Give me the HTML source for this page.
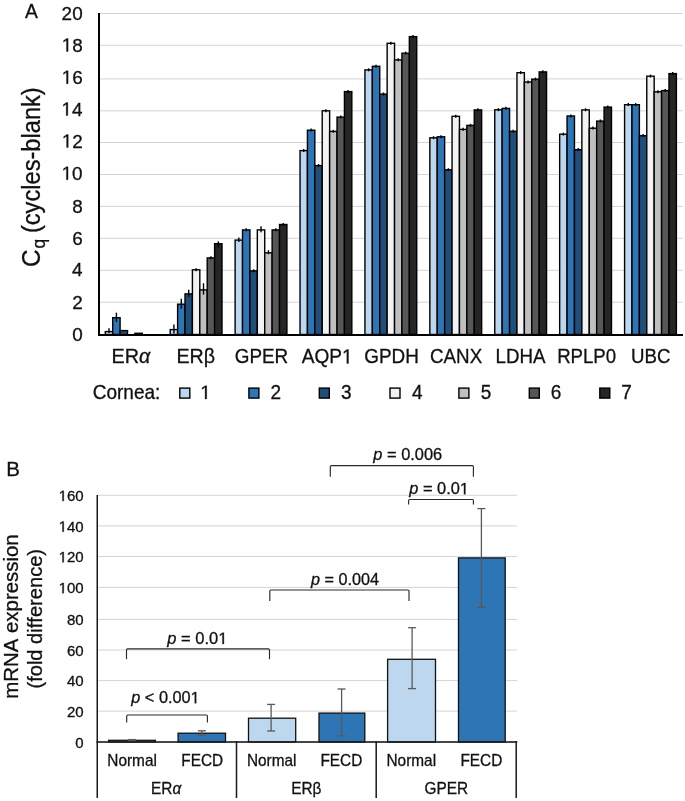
<!DOCTYPE html>
<html><head><meta charset="utf-8"><style>
html,body{margin:0;padding:0;background:#fff;}
svg{display:block;will-change:transform;}
text{font-family:"Liberation Sans", sans-serif;fill:#111;font-kerning:none;stroke:#111;stroke-width:0.3px;}
.g1{fill:#111;stroke:#111;stroke-width:0.3px;vector-effect:non-scaling-stroke;}
</style></head><body>
<svg width="685" height="801" viewBox="0 0 685 801">
<rect width="685" height="801" fill="#fff"/>
<rect x="100" y="13.00" width="583" height="1" fill="#D4D4D4"/>
<rect x="100" y="44.80" width="583" height="1" fill="#D4D4D4"/>
<rect x="100" y="78.40" width="583" height="1" fill="#D4D4D4"/>
<rect x="100" y="110.30" width="583" height="1" fill="#D4D4D4"/>
<rect x="100" y="142.00" width="583" height="1" fill="#D4D4D4"/>
<rect x="100" y="174.00" width="583" height="1" fill="#D4D4D4"/>
<rect x="100" y="205.90" width="583" height="1" fill="#D4D4D4"/>
<rect x="100" y="237.80" width="583" height="1" fill="#D4D4D4"/>
<rect x="100" y="269.80" width="583" height="1" fill="#D4D4D4"/>
<rect x="100" y="301.70" width="583" height="1" fill="#D4D4D4"/>
<rect x="105.30" y="331.60" width="7.40" height="2.90" fill="#BDD7EE" stroke="#000" stroke-width="1.4"/>
<line x1="109.00" y1="328.20" x2="109.00" y2="333.00" stroke="#000" stroke-width="1.4"/>
<rect x="112.70" y="317.70" width="7.40" height="16.80" fill="#2E75B6" stroke="#000" stroke-width="1.4"/>
<line x1="116.40" y1="312.70" x2="116.40" y2="322.00" stroke="#000" stroke-width="1.4"/>
<rect x="120.10" y="330.60" width="7.40" height="3.90" fill="#1F4E79" stroke="#000" stroke-width="1.4"/>
<rect x="134.90" y="333.30" width="7.40" height="1.20" fill="#BFBFBF" stroke="#000" stroke-width="1.4"/>
<rect x="170.21" y="329.60" width="7.40" height="4.90" fill="#BDD7EE" stroke="#000" stroke-width="1.4"/>
<line x1="173.91" y1="324.50" x2="173.91" y2="333.50" stroke="#000" stroke-width="1.4"/>
<rect x="177.61" y="304.20" width="7.40" height="30.30" fill="#2E75B6" stroke="#000" stroke-width="1.4"/>
<line x1="181.31" y1="298.70" x2="181.31" y2="308.60" stroke="#000" stroke-width="1.4"/>
<rect x="185.01" y="293.90" width="7.40" height="40.60" fill="#1F4E79" stroke="#000" stroke-width="1.4"/>
<line x1="188.71" y1="289.80" x2="188.71" y2="296.90" stroke="#000" stroke-width="1.4"/>
<rect x="192.41" y="269.80" width="7.40" height="64.70" fill="#F2F2F2" stroke="#000" stroke-width="1.4"/>
<line x1="196.11" y1="268.20" x2="196.11" y2="271.20" stroke="#000" stroke-width="1.4"/>
<rect x="199.81" y="289.90" width="7.40" height="44.60" fill="#BFBFBF" stroke="#000" stroke-width="1.4"/>
<line x1="203.51" y1="283.30" x2="203.51" y2="294.60" stroke="#000" stroke-width="1.4"/>
<rect x="207.21" y="257.90" width="7.40" height="76.60" fill="#575757" stroke="#000" stroke-width="1.4"/>
<line x1="210.91" y1="256.30" x2="210.91" y2="259.30" stroke="#000" stroke-width="1.4"/>
<rect x="214.61" y="243.70" width="7.40" height="90.80" fill="#262626" stroke="#000" stroke-width="1.4"/>
<line x1="218.31" y1="241.30" x2="218.31" y2="247.40" stroke="#000" stroke-width="1.4"/>
<rect x="235.12" y="240.10" width="7.40" height="94.40" fill="#BDD7EE" stroke="#000" stroke-width="1.4"/>
<line x1="238.82" y1="237.60" x2="238.82" y2="242.00" stroke="#000" stroke-width="1.4"/>
<rect x="242.52" y="229.90" width="7.40" height="104.60" fill="#2E75B6" stroke="#000" stroke-width="1.4"/>
<line x1="246.22" y1="228.30" x2="246.22" y2="231.30" stroke="#000" stroke-width="1.4"/>
<rect x="249.92" y="270.90" width="7.40" height="63.60" fill="#1F4E79" stroke="#000" stroke-width="1.4"/>
<line x1="253.62" y1="269.30" x2="253.62" y2="272.30" stroke="#000" stroke-width="1.4"/>
<rect x="257.32" y="229.90" width="7.40" height="104.60" fill="#F2F2F2" stroke="#000" stroke-width="1.4"/>
<line x1="261.02" y1="226.20" x2="261.02" y2="232.30" stroke="#000" stroke-width="1.4"/>
<rect x="264.72" y="252.80" width="7.40" height="81.70" fill="#BFBFBF" stroke="#000" stroke-width="1.4"/>
<line x1="268.42" y1="250.20" x2="268.42" y2="254.20" stroke="#000" stroke-width="1.4"/>
<rect x="272.12" y="229.90" width="7.40" height="104.60" fill="#575757" stroke="#000" stroke-width="1.4"/>
<line x1="275.82" y1="228.30" x2="275.82" y2="231.30" stroke="#000" stroke-width="1.4"/>
<rect x="279.52" y="224.50" width="7.40" height="110.00" fill="#262626" stroke="#000" stroke-width="1.4"/>
<line x1="283.22" y1="222.90" x2="283.22" y2="225.90" stroke="#000" stroke-width="1.4"/>
<rect x="300.03" y="150.60" width="7.40" height="183.90" fill="#BDD7EE" stroke="#000" stroke-width="1.4"/>
<line x1="303.73" y1="149.00" x2="303.73" y2="152.00" stroke="#000" stroke-width="1.4"/>
<rect x="307.43" y="130.20" width="7.40" height="204.30" fill="#2E75B6" stroke="#000" stroke-width="1.4"/>
<line x1="311.13" y1="128.60" x2="311.13" y2="131.60" stroke="#000" stroke-width="1.4"/>
<rect x="314.83" y="165.60" width="7.40" height="168.90" fill="#1F4E79" stroke="#000" stroke-width="1.4"/>
<line x1="318.53" y1="164.00" x2="318.53" y2="167.00" stroke="#000" stroke-width="1.4"/>
<rect x="322.23" y="110.80" width="7.40" height="223.70" fill="#F2F2F2" stroke="#000" stroke-width="1.4"/>
<line x1="325.93" y1="109.20" x2="325.93" y2="112.20" stroke="#000" stroke-width="1.4"/>
<rect x="329.63" y="131.40" width="7.40" height="203.10" fill="#BFBFBF" stroke="#000" stroke-width="1.4"/>
<line x1="333.33" y1="129.80" x2="333.33" y2="132.80" stroke="#000" stroke-width="1.4"/>
<rect x="337.03" y="117.10" width="7.40" height="217.40" fill="#575757" stroke="#000" stroke-width="1.4"/>
<line x1="340.73" y1="115.50" x2="340.73" y2="118.50" stroke="#000" stroke-width="1.4"/>
<rect x="344.43" y="91.60" width="7.40" height="242.90" fill="#262626" stroke="#000" stroke-width="1.4"/>
<line x1="348.13" y1="90.00" x2="348.13" y2="93.00" stroke="#000" stroke-width="1.4"/>
<rect x="364.94" y="69.90" width="7.40" height="264.60" fill="#BDD7EE" stroke="#000" stroke-width="1.4"/>
<line x1="368.64" y1="68.30" x2="368.64" y2="71.30" stroke="#000" stroke-width="1.4"/>
<rect x="372.34" y="66.30" width="7.40" height="268.20" fill="#2E75B6" stroke="#000" stroke-width="1.4"/>
<line x1="376.04" y1="64.70" x2="376.04" y2="67.70" stroke="#000" stroke-width="1.4"/>
<rect x="379.74" y="94.10" width="7.40" height="240.40" fill="#1F4E79" stroke="#000" stroke-width="1.4"/>
<line x1="383.44" y1="92.50" x2="383.44" y2="95.50" stroke="#000" stroke-width="1.4"/>
<rect x="387.14" y="43.30" width="7.40" height="291.20" fill="#F2F2F2" stroke="#000" stroke-width="1.4"/>
<line x1="390.84" y1="41.70" x2="390.84" y2="44.70" stroke="#000" stroke-width="1.4"/>
<rect x="394.54" y="59.90" width="7.40" height="274.60" fill="#BFBFBF" stroke="#000" stroke-width="1.4"/>
<line x1="398.24" y1="58.30" x2="398.24" y2="61.30" stroke="#000" stroke-width="1.4"/>
<rect x="401.94" y="53.20" width="7.40" height="281.30" fill="#575757" stroke="#000" stroke-width="1.4"/>
<line x1="405.64" y1="51.60" x2="405.64" y2="54.60" stroke="#000" stroke-width="1.4"/>
<rect x="409.34" y="36.60" width="7.40" height="297.90" fill="#262626" stroke="#000" stroke-width="1.4"/>
<line x1="413.04" y1="35.00" x2="413.04" y2="38.00" stroke="#000" stroke-width="1.4"/>
<rect x="429.85" y="137.80" width="7.40" height="196.70" fill="#BDD7EE" stroke="#000" stroke-width="1.4"/>
<line x1="433.55" y1="136.20" x2="433.55" y2="139.20" stroke="#000" stroke-width="1.4"/>
<rect x="437.25" y="136.80" width="7.40" height="197.70" fill="#2E75B6" stroke="#000" stroke-width="1.4"/>
<line x1="440.95" y1="135.20" x2="440.95" y2="138.20" stroke="#000" stroke-width="1.4"/>
<rect x="444.65" y="169.80" width="7.40" height="164.70" fill="#1F4E79" stroke="#000" stroke-width="1.4"/>
<line x1="448.35" y1="168.20" x2="448.35" y2="171.20" stroke="#000" stroke-width="1.4"/>
<rect x="452.05" y="116.30" width="7.40" height="218.20" fill="#F2F2F2" stroke="#000" stroke-width="1.4"/>
<line x1="455.75" y1="114.70" x2="455.75" y2="117.70" stroke="#000" stroke-width="1.4"/>
<rect x="459.45" y="129.40" width="7.40" height="205.10" fill="#BFBFBF" stroke="#000" stroke-width="1.4"/>
<line x1="463.15" y1="127.80" x2="463.15" y2="130.80" stroke="#000" stroke-width="1.4"/>
<rect x="466.85" y="125.40" width="7.40" height="209.10" fill="#575757" stroke="#000" stroke-width="1.4"/>
<line x1="470.55" y1="123.80" x2="470.55" y2="126.80" stroke="#000" stroke-width="1.4"/>
<rect x="474.25" y="109.90" width="7.40" height="224.60" fill="#262626" stroke="#000" stroke-width="1.4"/>
<line x1="477.95" y1="108.30" x2="477.95" y2="111.30" stroke="#000" stroke-width="1.4"/>
<rect x="494.76" y="109.80" width="7.40" height="224.70" fill="#BDD7EE" stroke="#000" stroke-width="1.4"/>
<line x1="498.46" y1="108.20" x2="498.46" y2="111.20" stroke="#000" stroke-width="1.4"/>
<rect x="502.16" y="108.40" width="7.40" height="226.10" fill="#2E75B6" stroke="#000" stroke-width="1.4"/>
<line x1="505.86" y1="106.80" x2="505.86" y2="109.80" stroke="#000" stroke-width="1.4"/>
<rect x="509.56" y="131.30" width="7.40" height="203.20" fill="#1F4E79" stroke="#000" stroke-width="1.4"/>
<line x1="513.26" y1="129.70" x2="513.26" y2="132.70" stroke="#000" stroke-width="1.4"/>
<rect x="516.96" y="72.70" width="7.40" height="261.80" fill="#F2F2F2" stroke="#000" stroke-width="1.4"/>
<line x1="520.66" y1="71.10" x2="520.66" y2="74.10" stroke="#000" stroke-width="1.4"/>
<rect x="524.36" y="82.00" width="7.40" height="252.50" fill="#BFBFBF" stroke="#000" stroke-width="1.4"/>
<line x1="528.06" y1="80.40" x2="528.06" y2="83.40" stroke="#000" stroke-width="1.4"/>
<rect x="531.76" y="79.20" width="7.40" height="255.30" fill="#575757" stroke="#000" stroke-width="1.4"/>
<line x1="535.46" y1="77.60" x2="535.46" y2="80.60" stroke="#000" stroke-width="1.4"/>
<rect x="539.16" y="71.90" width="7.40" height="262.60" fill="#262626" stroke="#000" stroke-width="1.4"/>
<line x1="542.86" y1="70.30" x2="542.86" y2="73.30" stroke="#000" stroke-width="1.4"/>
<rect x="559.67" y="134.20" width="7.40" height="200.30" fill="#BDD7EE" stroke="#000" stroke-width="1.4"/>
<line x1="563.37" y1="132.60" x2="563.37" y2="135.60" stroke="#000" stroke-width="1.4"/>
<rect x="567.07" y="116.00" width="7.40" height="218.50" fill="#2E75B6" stroke="#000" stroke-width="1.4"/>
<line x1="570.77" y1="114.40" x2="570.77" y2="117.40" stroke="#000" stroke-width="1.4"/>
<rect x="574.47" y="149.70" width="7.40" height="184.80" fill="#1F4E79" stroke="#000" stroke-width="1.4"/>
<line x1="578.17" y1="148.10" x2="578.17" y2="151.10" stroke="#000" stroke-width="1.4"/>
<rect x="581.87" y="109.90" width="7.40" height="224.60" fill="#F2F2F2" stroke="#000" stroke-width="1.4"/>
<line x1="585.57" y1="108.30" x2="585.57" y2="111.30" stroke="#000" stroke-width="1.4"/>
<rect x="589.27" y="128.20" width="7.40" height="206.30" fill="#BFBFBF" stroke="#000" stroke-width="1.4"/>
<line x1="592.97" y1="126.60" x2="592.97" y2="129.60" stroke="#000" stroke-width="1.4"/>
<rect x="596.67" y="121.10" width="7.40" height="213.40" fill="#575757" stroke="#000" stroke-width="1.4"/>
<line x1="600.37" y1="119.50" x2="600.37" y2="122.50" stroke="#000" stroke-width="1.4"/>
<rect x="604.07" y="107.10" width="7.40" height="227.40" fill="#262626" stroke="#000" stroke-width="1.4"/>
<line x1="607.77" y1="105.50" x2="607.77" y2="108.50" stroke="#000" stroke-width="1.4"/>
<rect x="624.58" y="104.70" width="7.40" height="229.80" fill="#BDD7EE" stroke="#000" stroke-width="1.4"/>
<line x1="628.28" y1="103.10" x2="628.28" y2="106.10" stroke="#000" stroke-width="1.4"/>
<rect x="631.98" y="104.70" width="7.40" height="229.80" fill="#2E75B6" stroke="#000" stroke-width="1.4"/>
<line x1="635.68" y1="103.10" x2="635.68" y2="106.10" stroke="#000" stroke-width="1.4"/>
<rect x="639.38" y="135.70" width="7.40" height="198.80" fill="#1F4E79" stroke="#000" stroke-width="1.4"/>
<line x1="643.08" y1="134.10" x2="643.08" y2="137.10" stroke="#000" stroke-width="1.4"/>
<rect x="646.78" y="76.20" width="7.40" height="258.30" fill="#F2F2F2" stroke="#000" stroke-width="1.4"/>
<line x1="650.48" y1="74.60" x2="650.48" y2="77.60" stroke="#000" stroke-width="1.4"/>
<rect x="654.18" y="91.80" width="7.40" height="242.70" fill="#BFBFBF" stroke="#000" stroke-width="1.4"/>
<line x1="657.88" y1="90.20" x2="657.88" y2="93.20" stroke="#000" stroke-width="1.4"/>
<rect x="661.58" y="90.60" width="7.40" height="243.90" fill="#575757" stroke="#000" stroke-width="1.4"/>
<line x1="665.28" y1="89.00" x2="665.28" y2="92.00" stroke="#000" stroke-width="1.4"/>
<rect x="668.98" y="73.60" width="7.40" height="260.90" fill="#262626" stroke="#000" stroke-width="1.4"/>
<line x1="672.68" y1="72.00" x2="672.68" y2="75.00" stroke="#000" stroke-width="1.4"/>
<rect x="98" y="13" width="2" height="323" fill="#000"/>
<rect x="98" y="334" width="585" height="2" fill="#000"/>
<g transform="translate(72.13,340.80) scale(1.0000,1)"><text x="0.000" y="0" font-size="18.9">0</text></g>
<g transform="translate(72.34,308.65) scale(1.0000,1)"><text x="0.000" y="0" font-size="18.9">2</text></g>
<g transform="translate(71.94,276.30) scale(1.0000,1)"><text x="0.000" y="0" font-size="18.9">4</text></g>
<g transform="translate(72.22,244.55) scale(1.0000,1)"><text x="0.000" y="0" font-size="18.9">6</text></g>
<g transform="translate(72.21,212.55) scale(1.0000,1)"><text x="0.000" y="0" font-size="18.9">8</text></g>
<g transform="translate(61.62,179.75) scale(1.0000,1)"><path d="M515,0L696,0L696,1409L530,1409L197,1180L197,1010L515,1237Z" transform="translate(0.000,0) scale(0.00923,-0.00923)" class="g1"/><text x="10.511" y="0" font-size="18.9">0</text></g>
<g transform="translate(61.83,147.55) scale(1.0000,1)"><path d="M515,0L696,0L696,1409L530,1409L197,1180L197,1010L515,1237Z" transform="translate(0.000,0) scale(0.00923,-0.00923)" class="g1"/><text x="10.511" y="0" font-size="18.9">2</text></g>
<g transform="translate(61.43,115.60) scale(1.0000,1)"><path d="M515,0L696,0L696,1409L530,1409L197,1180L197,1010L515,1237Z" transform="translate(0.000,0) scale(0.00923,-0.00923)" class="g1"/><text x="10.511" y="0" font-size="18.9">4</text></g>
<g transform="translate(61.71,83.75) scale(1.0000,1)"><path d="M515,0L696,0L696,1409L530,1409L197,1180L197,1010L515,1237Z" transform="translate(0.000,0) scale(0.00923,-0.00923)" class="g1"/><text x="10.511" y="0" font-size="18.9">6</text></g>
<g transform="translate(61.70,51.55) scale(1.0000,1)"><path d="M515,0L696,0L696,1409L530,1409L197,1180L197,1010L515,1237Z" transform="translate(0.000,0) scale(0.00923,-0.00923)" class="g1"/><text x="10.511" y="0" font-size="18.9">8</text></g>
<g transform="translate(61.62,19.65) scale(1.0000,1)"><text x="0.000" y="0" font-size="18.9">20</text></g>
<g transform="translate(111.48,363.40) scale(0.9753,1)"><text x="0.000" y="0" font-size="20.3">ER</text><text x="28.200" y="0" font-size="20.3" font-family='"Liberation Serif", serif' font-style="italic">α</text></g>
<g transform="translate(176.39,363.40) scale(0.9677,1)"><text x="0.000" y="0" font-size="20.3">ERβ</text></g>
<g transform="translate(234.75,363.40) scale(0.9304,1)"><text x="0.000" y="0" font-size="20.3">GPER</text></g>
<g transform="translate(301.76,363.40) scale(0.9391,1)"><text x="0.000" y="0" font-size="20.3">AQP</text><path d="M515,0L696,0L696,1409L530,1409L197,1180L197,1010L515,1237Z" transform="translate(42.870,0) scale(0.00991,-0.00991)" class="g1"/></g>
<g transform="translate(364.25,363.40) scale(0.9326,1)"><text x="0.000" y="0" font-size="20.3">GPDH</text></g>
<g transform="translate(430.05,363.40) scale(0.9246,1)"><text x="0.000" y="0" font-size="20.3">CANX</text></g>
<g transform="translate(495.56,363.40) scale(0.9229,1)"><text x="0.000" y="0" font-size="20.3">LDHA</text></g>
<g transform="translate(557.17,363.40) scale(0.9166,1)"><text x="0.000" y="0" font-size="20.3">RPLP0</text></g>
<g transform="translate(630.96,363.40) scale(0.9205,1)"><text x="0.000" y="0" font-size="20.3">UBC</text></g>
<g transform="translate(40.40,266.93) rotate(-90) scale(0.9727,1)"><text x="0.000" y="0" font-size="25">C</text></g>
<g transform="translate(44.60,248.53) rotate(-90) scale(0.9900,1)"><text x="0.000" y="0" font-size="17.5">q</text></g>
<g transform="translate(40.40,233.07) rotate(-90) scale(0.9457,1)"><text x="0.000" y="0" font-size="25">(cycles-blank)</text></g>
<g transform="translate(24.96,17.80) scale(0.9192,1)"><text x="0.000" y="0" font-size="21">A</text></g>
<g transform="translate(92.74,398.90) scale(0.9795,1)"><text x="0.000" y="0" font-size="19.4">Cornea:</text></g>
<rect x="179.80" y="388.1" width="10.0" height="10.0" fill="#BDD7EE" stroke="#000" stroke-width="1.4"/>
<g transform="translate(200.27,399.00) scale(0.9800,1)"><path d="M515,0L696,0L696,1409L530,1409L197,1180L197,1010L515,1237Z" transform="translate(0.000,0) scale(0.00947,-0.00947)" class="g1"/></g>
<rect x="248.90" y="388.1" width="10.0" height="10.0" fill="#2E75B6" stroke="#000" stroke-width="1.4"/>
<g transform="translate(270.44,399.00) scale(0.9800,1)"><text x="0.000" y="0" font-size="19.4">2</text></g>
<rect x="319.30" y="388.1" width="10.0" height="10.0" fill="#1F4E79" stroke="#000" stroke-width="1.4"/>
<g transform="translate(341.08,399.00) scale(0.9800,1)"><text x="0.000" y="0" font-size="19.4">3</text></g>
<rect x="390.00" y="388.1" width="10.0" height="10.0" fill="#F2F2F2" stroke="#000" stroke-width="1.4"/>
<g transform="translate(412.06,399.00) scale(0.9800,1)"><text x="0.000" y="0" font-size="19.4">4</text></g>
<rect x="458.90" y="388.1" width="10.0" height="10.0" fill="#BFBFBF" stroke="#000" stroke-width="1.4"/>
<g transform="translate(480.64,399.00) scale(0.9800,1)"><text x="0.000" y="0" font-size="19.4">5</text></g>
<rect x="529.30" y="388.1" width="10.0" height="10.0" fill="#575757" stroke="#000" stroke-width="1.4"/>
<g transform="translate(550.83,399.00) scale(0.9800,1)"><text x="0.000" y="0" font-size="19.4">6</text></g>
<rect x="599.80" y="388.1" width="10.0" height="10.0" fill="#262626" stroke="#000" stroke-width="1.4"/>
<g transform="translate(621.33,399.00) scale(0.9800,1)"><text x="0.000" y="0" font-size="19.4">7</text></g>
<rect x="98" y="494.75" width="419" height="1" fill="#D4D4D4"/>
<rect x="98" y="525.40" width="419" height="1" fill="#D4D4D4"/>
<rect x="98" y="556.00" width="419" height="1" fill="#D4D4D4"/>
<rect x="98" y="586.90" width="419" height="1" fill="#D4D4D4"/>
<rect x="98" y="618.90" width="419" height="1" fill="#D4D4D4"/>
<rect x="98" y="649.50" width="419" height="1" fill="#D4D4D4"/>
<rect x="98" y="680.10" width="419" height="1" fill="#D4D4D4"/>
<rect x="98" y="710.60" width="419" height="1" fill="#D4D4D4"/>
<rect x="108.60" y="740.30" width="46.80" height="1.70" fill="#BDD7EE" stroke="#111" stroke-width="1.3"/>
<rect x="178.10" y="733.20" width="47.40" height="8.80" fill="#2E75B6" stroke="#111" stroke-width="1.3"/>
<rect x="248.50" y="718.20" width="47.20" height="23.80" fill="#BDD7EE" stroke="#111" stroke-width="1.3"/>
<rect x="319.00" y="713.10" width="45.80" height="28.90" fill="#2E75B6" stroke="#111" stroke-width="1.3"/>
<rect x="387.60" y="659.30" width="47.90" height="82.70" fill="#BDD7EE" stroke="#111" stroke-width="1.3"/>
<rect x="458.50" y="557.90" width="46.70" height="184.10" fill="#2E75B6" stroke="#111" stroke-width="1.3"/>
<line x1="131.8" y1="739.6" x2="131.8" y2="740.4" stroke="#595959" stroke-width="1.3"/>
<line x1="127.80000000000001" y1="739.6" x2="135.8" y2="739.6" stroke="#595959" stroke-width="1.3"/>
<line x1="127.80000000000001" y1="740.4" x2="135.8" y2="740.4" stroke="#595959" stroke-width="1.3"/>
<line x1="201.9" y1="730.8000000000001" x2="201.9" y2="735.1999999999999" stroke="#595959" stroke-width="1.3"/>
<line x1="197.9" y1="730.8000000000001" x2="205.9" y2="730.8000000000001" stroke="#595959" stroke-width="1.3"/>
<line x1="197.9" y1="735.1999999999999" x2="205.9" y2="735.1999999999999" stroke="#595959" stroke-width="1.3"/>
<line x1="271.1" y1="704.4" x2="271.1" y2="731.0" stroke="#595959" stroke-width="1.3"/>
<line x1="267.1" y1="704.4" x2="275.1" y2="704.4" stroke="#595959" stroke-width="1.3"/>
<line x1="267.1" y1="731.0" x2="275.1" y2="731.0" stroke="#595959" stroke-width="1.3"/>
<line x1="341.6" y1="689.0" x2="341.6" y2="735.9" stroke="#595959" stroke-width="1.3"/>
<line x1="337.6" y1="689.0" x2="345.6" y2="689.0" stroke="#595959" stroke-width="1.3"/>
<line x1="337.6" y1="735.9" x2="345.6" y2="735.9" stroke="#595959" stroke-width="1.3"/>
<line x1="412.1" y1="627.7" x2="412.1" y2="688.6" stroke="#595959" stroke-width="1.3"/>
<line x1="408.1" y1="627.7" x2="416.1" y2="627.7" stroke="#595959" stroke-width="1.3"/>
<line x1="408.1" y1="688.6" x2="416.1" y2="688.6" stroke="#595959" stroke-width="1.3"/>
<line x1="481.4" y1="508.6" x2="481.4" y2="607.3" stroke="#595959" stroke-width="1.3"/>
<line x1="477.4" y1="508.6" x2="485.4" y2="508.6" stroke="#595959" stroke-width="1.3"/>
<line x1="477.4" y1="607.3" x2="485.4" y2="607.3" stroke="#595959" stroke-width="1.3"/>
<rect x="96.5" y="495" width="1.5" height="303" fill="#1A1A1A"/>
<rect x="96.5" y="741.2" width="420.8" height="1.6" fill="#1A1A1A"/>
<rect x="235.75" y="741" width="1.5" height="57" fill="#1A1A1A"/>
<rect x="375.45" y="741" width="1.5" height="57" fill="#1A1A1A"/>
<rect x="515.45" y="741" width="1.5" height="57" fill="#1A1A1A"/>
<g transform="translate(75.34,747.80) scale(1.0000,1)"><text x="0.000" y="0" font-size="15.0">0</text></g>
<g transform="translate(67.00,716.90) scale(1.0000,1)"><text x="0.000" y="0" font-size="15.0">20</text></g>
<g transform="translate(67.00,686.40) scale(1.0000,1)"><text x="0.000" y="0" font-size="15.0">40</text></g>
<g transform="translate(67.00,655.80) scale(1.0000,1)"><text x="0.000" y="0" font-size="15.0">60</text></g>
<g transform="translate(67.00,625.20) scale(1.0000,1)"><text x="0.000" y="0" font-size="15.0">80</text></g>
<g transform="translate(58.66,593.20) scale(1.0000,1)"><path d="M515,0L696,0L696,1409L530,1409L197,1180L197,1010L515,1237Z" transform="translate(0.000,0) scale(0.00732,-0.00732)" class="g1"/><text x="8.342" y="0" font-size="15.0">00</text></g>
<g transform="translate(58.66,562.30) scale(1.0000,1)"><path d="M515,0L696,0L696,1409L530,1409L197,1180L197,1010L515,1237Z" transform="translate(0.000,0) scale(0.00732,-0.00732)" class="g1"/><text x="8.342" y="0" font-size="15.0">20</text></g>
<g transform="translate(58.66,531.70) scale(1.0000,1)"><path d="M515,0L696,0L696,1409L530,1409L197,1180L197,1010L515,1237Z" transform="translate(0.000,0) scale(0.00732,-0.00732)" class="g1"/><text x="8.342" y="0" font-size="15.0">40</text></g>
<g transform="translate(58.66,501.05) scale(1.0000,1)"><path d="M515,0L696,0L696,1409L530,1409L197,1180L197,1010L515,1237Z" transform="translate(0.000,0) scale(0.00732,-0.00732)" class="g1"/><text x="8.342" y="0" font-size="15.0">60</text></g>
<g transform="translate(107.29,766.00) scale(0.9500,1)"><text x="0.000" y="0" font-size="16.2">Normal</text></g>
<g transform="translate(181.29,766.00) scale(0.9500,1)"><text x="0.000" y="0" font-size="16.2">FECD</text></g>
<g transform="translate(246.89,766.00) scale(0.9500,1)"><text x="0.000" y="0" font-size="16.2">Normal</text></g>
<g transform="translate(320.39,766.00) scale(0.9500,1)"><text x="0.000" y="0" font-size="16.2">FECD</text></g>
<g transform="translate(386.49,766.00) scale(0.9500,1)"><text x="0.000" y="0" font-size="16.2">Normal</text></g>
<g transform="translate(460.39,766.00) scale(0.9500,1)"><text x="0.000" y="0" font-size="16.2">FECD</text></g>
<g transform="translate(151.01,794.00) scale(0.9500,1)"><text x="0.000" y="0" font-size="16.2">ER</text><text x="22.504" y="0" font-size="16.2" font-family='"Liberation Serif", serif' font-style="italic">α</text></g>
<g transform="translate(291.16,794.00) scale(0.9500,1)"><text x="0.000" y="0" font-size="16.2">ERβ</text></g>
<g transform="translate(424.56,794.00) scale(0.9500,1)"><text x="0.000" y="0" font-size="16.2">GPER</text></g>
<path d="M126.7,722.5 L126.7,716.0 Q126.7,715.0 127.7,715.0 L206.4,715.0 Q207.4,715.0 207.4,716.0 L207.4,722.5" fill="none" stroke="#2A2A2A" stroke-width="1.15"/>
<path d="M126.5,659.3 L126.5,649.9 Q126.5,648.9 127.5,648.9 L268.5,648.9 Q269.5,648.9 269.5,649.9 L269.5,659.3" fill="none" stroke="#2A2A2A" stroke-width="1.15"/>
<path d="M269.8,600.9 L269.8,591.0 Q269.8,590.0 270.8,590.0 L408.0,590.0 Q409.0,590.0 409.0,591.0 L409.0,600.9" fill="none" stroke="#2A2A2A" stroke-width="1.15"/>
<path d="M330.3,476.8 L330.3,466.6 Q330.3,465.6 331.3,465.6 L472.4,465.6 Q473.4,465.6 473.4,466.6 L473.4,476.8" fill="none" stroke="#2A2A2A" stroke-width="1.15"/>
<path d="M408.6,504.6 L408.6,500.5 Q408.6,499.5 409.6,499.5 L472.4,499.5 Q473.4,499.5 473.4,500.5 L473.4,504.6" fill="none" stroke="#2A2A2A" stroke-width="1.15"/>
<g transform="translate(131.21,703.30) scale(0.9953,1)"><text x="0.000" y="0" font-size="16.4" font-style="italic">p</text><text x="13.677" y="0" font-size="16.4">&lt;</text><text x="27.811" y="0" font-size="16.4">0.00</text><path d="M515,0L696,0L696,1409L530,1409L197,1180L197,1010L515,1237Z" transform="translate(59.730,0) scale(0.00801,-0.00801)" class="g1"/></g>
<g transform="translate(167.31,644.00) scale(1.0072,1)"><text x="0.000" y="0" font-size="16.4" font-style="italic">p</text><text x="13.677" y="0" font-size="16.4">=</text><text x="27.811" y="0" font-size="16.4">0.0</text><path d="M515,0L696,0L696,1409L530,1409L197,1180L197,1010L515,1237Z" transform="translate(50.609,0) scale(0.00801,-0.00801)" class="g1"/></g>
<g transform="translate(311.00,584.70) scale(0.9887,1)"><text x="0.000" y="0" font-size="16.4" font-style="italic">p</text><text x="13.677" y="0" font-size="16.4">=</text><text x="27.811" y="0" font-size="16.4">0.004</text></g>
<g transform="translate(373.31,460.30) scale(1.0009,1)"><text x="0.000" y="0" font-size="16.4" font-style="italic">p</text><text x="13.677" y="0" font-size="16.4">=</text><text x="27.811" y="0" font-size="16.4">0.006</text></g>
<g transform="translate(409.21,494.30) scale(1.0002,1)"><text x="0.000" y="0" font-size="16.4" font-style="italic">p</text><text x="13.677" y="0" font-size="16.4">=</text><text x="27.811" y="0" font-size="16.4">0.0</text><path d="M515,0L696,0L696,1409L530,1409L197,1180L197,1010L515,1237Z" transform="translate(50.609,0) scale(0.00801,-0.00801)" class="g1"/></g>
<g transform="translate(18.30,698.76) rotate(-90) scale(1.0206,1)"><text x="0.000" y="0" font-size="20">mRNA</text><text x="64.443" y="0" font-size="20">expression</text></g>
<g transform="translate(41.50,688.55) rotate(-90) scale(1.0046,1)"><text x="0.000" y="0" font-size="20">(fold</text><text x="44.463" y="0" font-size="20">difference)</text></g>
<g transform="translate(6.37,475.90) scale(1.0027,1)"><text x="0.000" y="0" font-size="20.5">B</text></g>
</svg>
</body></html>
